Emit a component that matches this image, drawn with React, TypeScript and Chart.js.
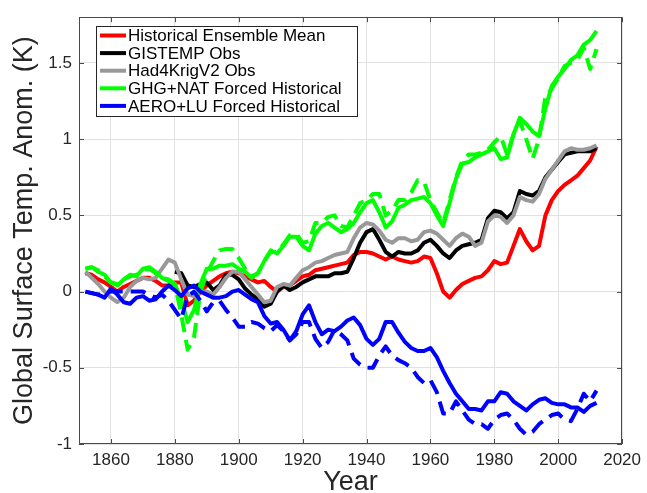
import React, { useEffect, useRef } from "react";
import { Chart, registerables } from "chart.js";

Chart.register(...registerables);

const years = [
  1852, 1854, 1856, 1858, 1860, 1862, 1864, 1866, 1868, 1870,
  1872, 1874, 1876, 1878, 1880, 1882, 1884, 1886, 1888, 1890,
  1892, 1894, 1896, 1898, 1900, 1902, 1904, 1906, 1908, 1910,
  1912, 1914, 1916, 1918, 1920, 1922, 1924, 1926, 1928, 1930,
  1932, 1934, 1936, 1938, 1940, 1942, 1944, 1946, 1948, 1950,
  1952, 1954, 1956, 1958, 1960, 1962, 1964, 1966, 1968, 1970,
  1972, 1974, 1976, 1978, 1980, 1982, 1984, 1986, 1988, 1990,
  1992, 1994, 1996, 1998, 2000, 2002, 2004, 2006, 2008, 2010, 2012,
];

const ensembleMean = [
  0.12, 0.11, 0.08, 0.06, 0.03, 0.0, 0.03, 0.05, 0.07, 0.09,
  0.09, 0.07, 0.04, 0.04, 0.06, 0.06, -0.09, -0.06, 0.0, 0.04,
  0.07, 0.1, 0.12, 0.13, 0.12, 0.1, 0.08, 0.06, 0.07, 0.03,
  0.0, 0.03, 0.04, 0.07, 0.1, 0.11, 0.14, 0.15, 0.16, 0.17,
  0.18, 0.19, 0.24, 0.26, 0.26, 0.25, 0.23, 0.21, 0.23, 0.21,
  0.2, 0.19, 0.2, 0.23, 0.22, 0.12, 0.0, -0.04, 0.01, 0.05,
  0.07, 0.09, 0.1, 0.14, 0.2, 0.18, 0.19, 0.3, 0.41, 0.33,
  0.27, 0.3, 0.5, 0.6, 0.66, 0.7, 0.73, 0.76, 0.81, 0.86, 0.95,
];

const gistempObs = [
  null, null, null, null, null, null, null, null, null, null,
  null, null, null, null, 0.13, 0.12, 0.04, 0.03, 0.05, 0.06,
  0.01, 0.04, 0.11, 0.11, 0.08, 0.02, -0.02, -0.05, -0.1, -0.08,
  0.0, 0.04, 0.01, 0.03, 0.06, 0.08, 0.1, 0.1, 0.1, 0.12,
  0.12, 0.13, 0.22, 0.32, 0.39, 0.41, 0.34, 0.26, 0.23, 0.26,
  0.25, 0.25, 0.27, 0.32, 0.34, 0.3, 0.25, 0.22, 0.27, 0.3,
  0.31, 0.32, 0.34, 0.48, 0.53, 0.52, 0.48, 0.52, 0.66, 0.64,
  0.63, 0.66, 0.75, 0.8, 0.85, 0.9, 0.91, 0.92, 0.92, 0.92, 0.94,
];

const had4KrigObs = [
  0.13, 0.09, 0.05, 0.0, -0.04, -0.07, -0.04, 0.03, 0.07, 0.09,
  0.08, 0.09, 0.15, 0.21, 0.19, 0.08, -0.02, -0.03, 0.0, 0.0,
  -0.02, 0.03, 0.09, 0.13, 0.13, 0.08, 0.03, -0.02, -0.07, -0.06,
  0.03, 0.05, 0.04, 0.09, 0.14, 0.16, 0.19, 0.2, 0.22, 0.24,
  0.25, 0.26, 0.35, 0.42, 0.45, 0.44, 0.4, 0.34, 0.32, 0.35,
  0.35, 0.33, 0.34, 0.39, 0.4, 0.38, 0.34, 0.3, 0.35, 0.38,
  0.36, 0.3, 0.32, 0.46, 0.5, 0.49, 0.45, 0.5, 0.62, 0.6,
  0.59, 0.64, 0.74, 0.8, 0.86, 0.92, 0.94, 0.93, 0.93, 0.94, 0.96,
];

const ghgNat = [
  0.15, 0.16, 0.13, 0.11, 0.06, 0.04, 0.08, 0.11, 0.1, 0.15,
  0.16, 0.13, 0.09, 0.07, 0.05, -0.05, -0.2, -0.12, 0.05, 0.15,
  0.15, 0.17, 0.17, 0.18, 0.15, 0.13, 0.09, 0.12, 0.2, 0.27,
  0.25, 0.3, 0.36, 0.36, 0.3, 0.27, 0.38, 0.43, 0.45, 0.42,
  0.39, 0.41, 0.45, 0.52, 0.58, 0.6, 0.52, 0.42, 0.46, 0.55,
  0.57, 0.6, 0.61, 0.62, 0.58, 0.5, 0.43, 0.58, 0.74, 0.84,
  0.85, 0.88, 0.9, 0.92, 0.94, 0.87, 0.88, 1.03, 1.14, 1.1,
  1.05, 1.02, 1.2, 1.35, 1.41, 1.46, 1.52, 1.55, 1.62, 1.65, 1.71,
];

const ghgNatAlt = [
  0.15, 0.16, 0.14, 0.1, 0.06, 0.05, 0.08, 0.1, 0.11, 0.14,
  0.15, 0.12, 0.09, 0.08, 0.05, -0.15, -0.38, -0.3, 0.0, 0.12,
  0.2, 0.27, 0.28, 0.28, 0.22, 0.15, 0.1, 0.12, 0.2, 0.26,
  0.26, 0.31, 0.37, 0.38, 0.32, 0.33, 0.45, 0.45, 0.49, 0.5,
  0.43, 0.42, 0.5, 0.58, 0.6, 0.64, 0.64, 0.5, 0.53, 0.6,
  0.6, 0.65, 0.73, 0.72, 0.6, 0.52, 0.45, 0.6, 0.75, 0.86,
  0.9, 0.9, 0.91, 0.93, 0.98, 1.02, 0.9, 1.03, 1.12, 1.0,
  0.87, 1.0, 1.28, 1.33, 1.4, 1.48, 1.5, 1.52, 1.6, 1.46, 1.59,
];

const aeroLu = [
  0.0, -0.01, -0.02, -0.04, 0.02, -0.02, -0.07, -0.08, -0.04, -0.03,
  -0.06, -0.05, 0.0, 0.04, 0.01, -0.03, 0.02, 0.04, 0.0, -0.02,
  -0.04, -0.04, -0.03, 0.0, 0.01, -0.02, -0.05, -0.07, -0.16, -0.21,
  -0.2, -0.25, -0.32, -0.26, -0.15, -0.09, -0.2, -0.28, -0.25, -0.26,
  -0.23, -0.19, -0.17, -0.22, -0.31, -0.35, -0.31, -0.2, -0.2, -0.27,
  -0.33, -0.37, -0.39, -0.39, -0.37, -0.43, -0.52, -0.6, -0.67, -0.72,
  -0.77, -0.77, -0.78, -0.72, -0.72, -0.66, -0.67, -0.72, -0.75, -0.78,
  -0.74, -0.71, -0.7, -0.73, -0.74, -0.74, -0.76, -0.76, -0.79, -0.75, -0.73,
];

const aeroLuAlt = [
  0.0, -0.01, -0.02, -0.01, 0.0, 0.0, 0.0, 0.0, 0.0, 0.0,
  -0.02, -0.04, -0.02, -0.06, -0.12, -0.18, -0.03, 0.0, -0.06, -0.13,
  -0.07, -0.06, -0.12, -0.17, -0.23, -0.23, -0.2, -0.21, -0.24, -0.26,
  -0.22, -0.26, -0.32, -0.28, -0.2, -0.2, -0.31, -0.37, -0.33, -0.25,
  -0.28, -0.32, -0.44, -0.48, -0.5, -0.5, -0.42, -0.36, -0.42, -0.45,
  -0.47, -0.5, -0.56, -0.6, -0.58, -0.66, -0.8, -0.8, -0.72, -0.78,
  -0.84, -0.87, -0.87, -0.9, -0.84, -0.81, -0.8, -0.84, -0.9, -0.94,
  -0.92, -0.87, -0.84, -0.81, -0.8, -0.84, -0.85, -0.77, -0.67, -0.72, -0.65,
];

const xTicks = [1860, 1880, 1900, 1920, 1940, 1960, 1980, 2000, 2020];
const yTicks = [-1, -0.5, 0, 0.5, 1, 1.5];

const FONT = '"Liberation Sans", Arial, Helvetica, sans-serif';
const AXIS_COLOR = "#262626";

const toPoints = (vals: (number | null)[]) =>
  years.map((yr, i) => ({ x: yr, y: vals[i] }));

const framePlugin = {
  id: "frameTicks",
  afterDatasetsDraw(chart: any) {
    const { ctx, chartArea, scales } = chart;
    const { left, right, top, bottom } = chartArea;
    const xs = scales.x;
    const ys = scales.y;
    ctx.save();
    ctx.strokeStyle = "#4a4a4a";
    ctx.lineWidth = 1;
    ctx.beginPath();
    xTicks.forEach((v) => {
      const px = Math.round(xs.getPixelForValue(v)) + 0.5;
      ctx.moveTo(px, bottom);
      ctx.lineTo(px, bottom - 5);
      ctx.moveTo(px, top);
      ctx.lineTo(px, top + 5);
    });
    yTicks.forEach((v) => {
      const py = Math.round(ys.getPixelForValue(v)) + 0.5;
      ctx.moveTo(left, py);
      ctx.lineTo(left + 5, py);
      ctx.moveTo(right, py);
      ctx.lineTo(right - 5, py);
    });
    ctx.stroke();
    ctx.strokeRect(
      Math.round(left) + 0.5,
      Math.round(top) + 0.5,
      Math.round(right - left) - 1,
      Math.round(bottom - top) - 1
    );
    ctx.restore();
  },
};

const legendPlugin = {
  id: "boxLegend",
  afterDraw(chart: any) {
    const { ctx } = chart;
    const items = chart.data.datasets.filter((d: any) => d.inLegend);
    const bx = 96.5;
    const by = 26.5;
    const bw = 261;
    const bh = 90;
    ctx.save();
    ctx.fillStyle = "#ffffff";
    ctx.fillRect(bx, by, bw, bh);
    ctx.strokeStyle = "#262626";
    ctx.lineWidth = 1;
    ctx.strokeRect(bx, by, bw, bh);
    ctx.font = `17px ${FONT}`;
    ctx.textBaseline = "middle";
    ctx.textAlign = "left";
    items.forEach((d: any, i: number) => {
      const yy = 35.5 + i * 17.6;
      ctx.strokeStyle = d.borderColor;
      ctx.lineWidth = 4;
      ctx.setLineDash([]);
      ctx.beginPath();
      ctx.moveTo(100, yy);
      ctx.lineTo(126, yy);
      ctx.stroke();
      ctx.fillStyle = "#000000";
      ctx.fillText(d.label, 128, yy + 1);
    });
    ctx.restore();
  },
};

export default function App() {
  const ref = useRef<HTMLCanvasElement | null>(null);

  useEffect(() => {
    if (!ref.current) return;
    const common = {
      pointRadius: 0,
      borderWidth: 4,
      fill: false,
      tension: 0,
      borderJoinStyle: "round" as const,
      spanGaps: false,
    };
    const chart = new Chart(ref.current, {
      type: "line",
      data: {
        datasets: [
          { ...common, label: "Historical Ensemble Mean", data: toPoints(ensembleMean), borderColor: "#ff0000", order: 6, inLegend: true } as any,
          { ...common, label: "GISTEMP Obs", data: toPoints(gistempObs), borderColor: "#000000", order: 5, inLegend: true } as any,
          { ...common, label: "Had4KrigV2 Obs", data: toPoints(had4KrigObs), borderColor: "#999999", order: 4, inLegend: true } as any,
          { ...common, label: "GHG+NAT Forced Historical", data: toPoints(ghgNat), borderColor: "#00ff00", order: 3, inLegend: true } as any,
          { ...common, label: "GHG+NAT (dashed)", data: toPoints(ghgNatAlt), borderColor: "#00ff00", borderDash: [15, 8], order: 3, inLegend: false } as any,
          { ...common, label: "AERO+LU Forced Historical", data: toPoints(aeroLu), borderColor: "#0000ff", order: 1, inLegend: true } as any,
          { ...common, label: "AERO+LU (dashed)", data: toPoints(aeroLuAlt), borderColor: "#0000ff", borderDash: [15, 8], order: 1, inLegend: false } as any,
        ],
      },
      options: {
        animation: false,
        responsive: false,
        maintainAspectRatio: false,
        layout: { padding: { left: 0, top: 10, right: 19, bottom: 0 } },
        plugins: {
          legend: { display: false },
          tooltip: { enabled: false },
        },
        scales: {
          x: {
            type: "linear",
            min: 1850,
            max: 2020,
            afterBuildTicks: (scale: any) => {
              scale.ticks = xTicks.map((v) => ({ value: v }));
            },
            afterFit: (scale: any) => {
              scale.height = 49;
            },
            ticks: {
              color: AXIS_COLOR,
              font: { family: FONT, size: 17 },
              padding: 6,
              maxRotation: 0,
              autoSkip: false,
              callback: (v: any) => String(v),
            },
            grid: { color: "#e2e2e2", drawTicks: false },
            border: { display: false },
            title: {
              display: true,
              text: "Year",
              color: AXIS_COLOR,
              font: { family: FONT, size: 27, lineHeight: 0.8 },
              padding: { top: 0, bottom: 0 },
            },
          },
          y: {
            type: "linear",
            min: -1,
            max: 1.8,
            afterBuildTicks: (scale: any) => {
              scale.ticks = yTicks.map((v) => ({ value: v }));
            },
            afterFit: (scale: any) => {
              scale.width = 79;
            },
            ticks: {
              color: AXIS_COLOR,
              font: { family: FONT, size: 17 },
              padding: 7,
              callback: (v: any) => String(v),
            },
            grid: { color: "#e2e2e2", drawTicks: false },
            border: { display: false },
            title: {
              display: true,
              text: "Global Surface Temp. Anom. (K)",
              color: AXIS_COLOR,
              font: { family: FONT, size: 27, lineHeight: 1 },
              padding: { top: 11, bottom: 0 },
            },
          },
        },
      },
      plugins: [framePlugin, legendPlugin],
    } as any);
    return () => chart.destroy();
  }, []);

  return (
    <div style={{ position: "fixed", left: 0, top: 0, width: 647, height: 493, background: "#fff" }}>
      <canvas ref={ref} width={647} height={493} style={{ display: "block" }} />
    </div>
  );
}
